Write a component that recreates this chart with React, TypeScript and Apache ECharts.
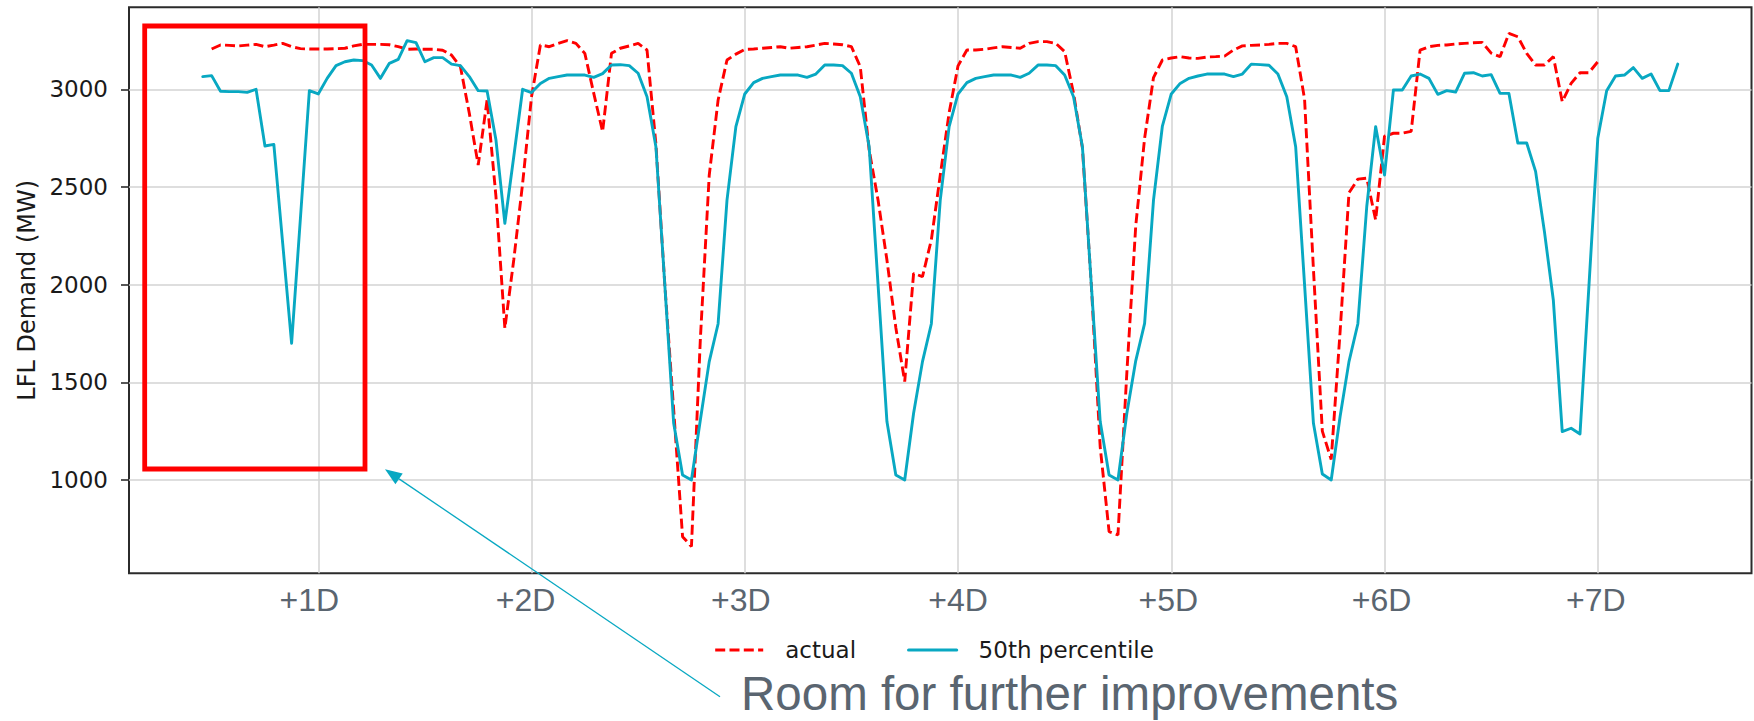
import React, { useEffect, useRef } from "react";
import * as echarts from "echarts";

// ---------- data (hourly, x = hours after forecast origin) ----------
const actualStartHour = 12;
const actualValues = [
  3206, 3227, 3225, 3222, 3226, 3230, 3218, 3226, 3235, 3218, 3208, 3206, // 12-23
  3206, 3206, 3208, 3210, 3222, 3230, 3230, 3230, 3228, 3218, 3205, 3206, // 24-35
  3205, 3205, 3200, 3175, 3116, 2877, 2612, 2945, 2450, 1777, 2126, 2519, // 36-47
  2962, 3227, 3218, 3235, 3249, 3235, 3184, 2980, 2783, 3184, 3210, 3222, // 48-59
  3235, 3201, 2720, 2000, 1359, 710, 660, 1720, 2560, 2945, 3150, 3180,   // 60-71
  3204, 3206, 3210, 3214, 3218, 3210, 3214, 3218, 3226, 3235, 3232, 3228, // 72-83
  3218, 3116, 2689, 2433, 2126, 1780, 1504, 2058, 2041, 2230, 2560, 2880, // 84-95
  3120, 3201, 3201, 3205, 3212, 3218, 3214, 3210, 3235, 3244, 3244, 3235, // 96-107
  3193, 2980, 2700, 2000, 1170, 736, 719, 1550, 2300, 2750, 3060, 3150,   // 108-119
  3160, 3167, 3160, 3158, 3165, 3167, 3170, 3201, 3222, 3225, 3227, 3230, // 120-131
  3235, 3235, 3218, 2950, 2078, 1250, 1105, 1760, 2470, 2540, 2545, 2331, // 132-143
  2760, 2775, 2775, 2785, 3200, 3218, 3225, 3227, 3232, 3235, 3238, 3240, // 144-155
  3185, 3167, 3286, 3269, 3184, 3124, 3124, 3167, 2937, 3030, 3085, 3085, // 156-167
  3141,                                                                   // 168
];

const p50StartHour = 11;
const p50Values = [
  3065,                                                                   // 11
  3070, 2990, 2988, 2988, 2984, 3000, 2710, 2718, 2210, 1700, 2345, 2993, // 12-23
  2976, 3056, 3121, 3141, 3150, 3147, 3124, 3056, 3133, 3153, 3249, 3239, // 24-35
  3141, 3162, 3162, 3129, 3121, 3065, 2993, 2991, 2740, 2314, 2655, 3000, // 36-47
  2983, 3030, 3056, 3065, 3073, 3073, 3073, 3061, 3080, 3124, 3126, 3121, // 48-59
  3082, 2962, 2706, 2000, 1290, 1026, 1000, 1307, 1606, 1800, 2433, 2809, // 60-71
  2976, 3034, 3056, 3065, 3073, 3073, 3073, 3061, 3078, 3124, 3124, 3121, // 72-83
  3082, 2962, 2706, 2000, 1299, 1026, 1000, 1342, 1606, 1800, 2433, 2809, // 84-95
  2976, 3034, 3056, 3065, 3073, 3073, 3073, 3061, 3082, 3124, 3124, 3121, // 96-107
  3073, 2962, 2706, 2000, 1299, 1026, 1000, 1342, 1610, 1802, 2433, 2812, // 108-119
  2976, 3030, 3056, 3068, 3078, 3078, 3078, 3065, 3078, 3129, 3126, 3123, // 120-131
  3078, 2962, 2706, 2000, 1290, 1031, 1000, 1325, 1606, 1800, 2400, 2809, // 132-143
  2561, 2996, 2996, 3068, 3078, 3056, 2974, 2993, 2986, 3082, 3085, 3068, // 144-155
  3075, 2979, 2979, 2725, 2725, 2580, 2270, 1920, 1248, 1265, 1236, 1990, // 156-167
  2749, 2993, 3068, 3073, 3111, 3056, 3078, 2993, 2993, 3129,             // 168-177
];

const xTickHours = [24, 48, 72, 96, 120, 144, 168];
const xTickLabels = ["+1D", "+2D", "+3D", "+4D", "+5D", "+6D", "+7D"];
const yTickValues = [1000, 1500, 2000, 2500, 3000];
const seriesNames = ["actual", "50th percentile"];
const yAxisTitle = "LFL Demand (MW)";
const annotationText = "Room for further improvements";

// hand-placed x labels in the reference sit slightly left of their gridlines (px)
const xLabelShift = [-9, -6, -4, 0, -3, -3, -2];

const RED = "#ff0000";
const TEAL = "#08a8c2";
const GREY_TEXT = "#5a6570";

export default function App() {
  const ref = useRef<HTMLDivElement>(null);

  useEffect(() => {
    if (!ref.current) return;
    const chart = echarts.init(ref.current, null, { renderer: "svg" });

    const toPairs = (start: number, vals: number[]) =>
      vals.map((v, i) => [start + i, v]);

    const xLabelFont = {
      fontSize: 32,
      fontFamily: "Liberation Sans, Arial, sans-serif",
      color: GREY_TEXT,
    };
    const rich: Record<string, any> = {};
    xLabelShift.forEach((s, i) => {
      rich["l" + i] = {
        ...xLabelFont,
        padding: s < 0 ? [0, -2 * s, 0, 0] : [0, 0, 0, 2 * s],
      };
    });

    // arrow geometry
    const tip = [385, 469.3];
    const tail = [720, 696.7];
    const dx = tip[0] - tail[0];
    const dy = tip[1] - tail[1];
    const len = Math.sqrt(dx * dx + dy * dy);
    const ux = dx / len;
    const uy = dy / len;
    const headLen = 17;
    const headHalf = 6.5;
    const bx = tip[0] - headLen * ux;
    const by = tip[1] - headLen * uy;
    const nx = -uy;
    const ny = ux;

    const option: any = {
      animation: false,
      backgroundColor: "#ffffff",
      grid: {
        left: 129,
        right: 2.5,
        top: 7.3,
        bottom: 147.7,
        show: true,
        borderColor: "#2b2b2b",
        borderWidth: 2,
        backgroundColor: "transparent",
      },
      xAxis: {
        type: "value",
        min: 2.7,
        max: 185.3,
        axisLine: { show: false },
        axisTick: { show: false, customValues: xTickHours },
        axisLabel: {
          customValues: xTickHours,
          formatter: (v: number) => {
            const i = xTickHours.indexOf(v);
            return i < 0 ? "" : `{l${i}|${xTickLabels[i]}}`;
          },
          rich,
          margin: 11,
          ...xLabelFont,
        },
        splitLine: { show: true, lineStyle: { color: "#d3d3d3", width: 1.5 } },
      },
      yAxis: {
        type: "value",
        min: 522.5,
        max: 3419.7,
        name: yAxisTitle,
        nameLocation: "middle",
        nameGap: 89,
        nameTextStyle: {
          fontSize: 24,
          fontFamily: "DejaVu Sans, sans-serif",
          color: "#1a1a1a",
        },
        axisLine: { show: false },
        axisTick: {
          show: true,
          length: 8,
          customValues: yTickValues,
          lineStyle: { color: "#2b2b2b", width: 1.6 },
        },
        axisLabel: {
          customValues: yTickValues,
          formatter: (v: number) => String(v),
          margin: 21,
          fontSize: 23,
          fontFamily: "DejaVu Sans, sans-serif",
          color: "#1a1a1a",
        },
        splitLine: { show: true, lineStyle: { color: "#d3d3d3", width: 1.5 } },
      },
      legend: {
        data: seriesNames,
        left: 713.6,
        top: 636,
        orient: "horizontal",
        padding: 0,
        itemWidth: 48,
        itemHeight: 28,
        itemGap: 51,
        itemStyle: { opacity: 0, borderWidth: 0 },
        lineStyle: { width: 3.2 },
        textStyle: {
          fontSize: 23,
          fontFamily: "DejaVu Sans, sans-serif",
          color: "#1a1a1a",
          padding: [0, 0, 0, 17],
          lineHeight: 28,
        },
      },
      series: [
        {
          type: "line",
          name: seriesNames[0],
          data: toPairs(actualStartHour, actualValues),
          symbol: "none",
          lineStyle: { color: RED, width: 2.9, type: [10, 4.3] },
          itemStyle: { color: RED },
          z: 2,
        },
        {
          type: "line",
          name: seriesNames[1],
          data: toPairs(p50StartHour, p50Values),
          symbol: "none",
          lineStyle: { color: TEAL, width: 2.9, join: "round", cap: "round" },
          itemStyle: { color: TEAL },
          z: 3,
        },
      ],
      graphic: [
        {
          type: "rect",
          z: 100,
          shape: { x: 144.7, y: 26, width: 220.3, height: 443 },
          style: { fill: "none", stroke: RED, lineWidth: 4.8 },
        },
        {
          type: "line",
          z: 100,
          shape: { x1: tail[0], y1: tail[1], x2: bx, y2: by },
          style: { stroke: TEAL, lineWidth: 1.3 },
        },
        {
          type: "polygon",
          z: 100,
          shape: {
            points: [
              [tip[0], tip[1]],
              [bx + headHalf * nx, by + headHalf * ny],
              [bx - headHalf * nx, by - headHalf * ny],
            ],
          },
          style: { fill: TEAL, stroke: "none" },
        },
        {
          type: "text",
          z: 100,
          x: 741,
          y: 693.5,
          style: {
            text: annotationText,
            fontSize: 47.5,
            fontFamily: "Liberation Sans, Arial, sans-serif",
            fill: GREY_TEXT,
            verticalAlign: "middle",
            align: "left",
          },
        },
      ],
    };

    chart.setOption(option);
    return () => chart.dispose();
  }, []);

  return (
    <div
      ref={ref}
      style={{ position: "absolute", left: 0, top: 0, width: 1754, height: 721 }}
    />
  );
}
